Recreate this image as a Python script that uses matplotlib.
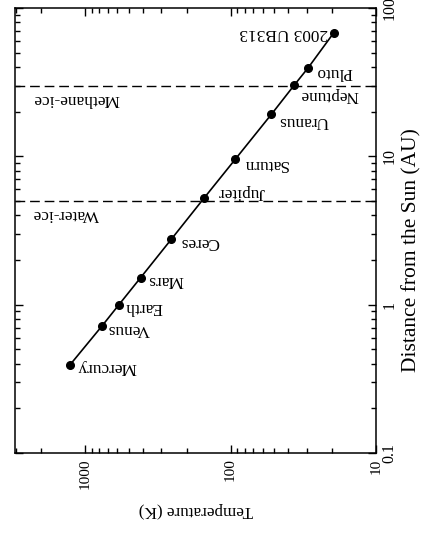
import matplotlib
matplotlib.use("Agg")
import matplotlib.pyplot as plt
from matplotlib.ticker import NullFormatter, LogLocator

plt.rcParams['font.family'] = ['Liberation Serif', 'DejaVu Serif']

names = ["Mercury", "Venus", "Earth", "Mars", "Ceres", "Jupiter", "Saturn",
         "Uranus", "Neptune", "Pluto", "2003 UB313"]
distance_au = [0.39, 0.72, 1.0, 1.52, 2.77, 5.2, 9.54, 19.2, 30.1, 39.5, 67.7]
temperature_k = [1280, 765, 586, 416, 255, 153, 93, 52.4, 36.6, 29.3, 19.6]

ice_lines = [5.0, 30.0]
ice_names = ["Water-ice", "Methane-ice"]

x_ticks = [1000, 100, 10]
x_ticklabels = ["1000", "100", "10"]
y_ticks = [0.1, 1, 10, 100]
y_ticklabels = ["0.1", "1", "10", "100"]

# label offsets in points (dx, dy), and horizontal alignment
label_offsets = {
    "Mercury": (5.5, -1, 'left'),
    "Venus": (4, -2, 'left'),
    "Earth": (4, -2, 'left'),
    "Mars": (5, -2, 'left'),
    "Ceres": (6, -2, 'left'),
    "Jupiter": (10, 5, 'left'),
    "Saturn": (5.5, -3.5, 'left'),
    "Uranus": (5, -5, 'left'),
    "Neptune": (4, -7, 'left'),
    "Pluto": (5.5, -3, 'left'),
    "2003 UB313": (-4, 0, 'right'),
}

fig = plt.figure(figsize=(4.22, 5.35), dpi=100)
ax = fig.add_axes([15/422, 1-453/535, (376-15)/422, (453-8)/535])

ax.set_xscale('log')
ax.set_yscale('log')
ax.set_xlim(3040, 10)
ax.set_ylim(0.1, 100)

for d in ice_lines:
    ax.axhline(d, color='black', lw=1.0, ls=(0, (7, 3.5)), zorder=1)

ax.plot(temperature_k, distance_au, '-', color='black', lw=1.2, zorder=2)
ax.plot(temperature_k, distance_au, 'o', color='black', ms=5.5, zorder=3)

for n, t, d in zip(names, temperature_k, distance_au):
    dx, dy, ha = label_offsets[n]
    ax.annotate(n, (t, d), xytext=(dx, dy), textcoords='offset points',
                rotation=180, ha=ha, va='center', fontsize=12.4)

for d, n in zip(ice_lines, ice_names):
    ax.annotate(n, (3040, d), xytext=(12.5, -9.5), textcoords='offset points',
                rotation=180, ha='left', va='center', fontsize=12.4)

ax.xaxis.set_minor_locator(LogLocator(base=10, subs=range(2, 10), numticks=20))
ax.yaxis.set_minor_locator(LogLocator(base=10, subs=range(2, 10), numticks=20))
ax.set_xticks(x_ticks)
ax.set_xticklabels(x_ticklabels)
ax.set_yticks(y_ticks)
ax.set_yticklabels(y_ticklabels)
ax.xaxis.set_minor_formatter(NullFormatter())
ax.yaxis.set_minor_formatter(NullFormatter())

ax.tick_params(which='both', direction='in', top=True, bottom=True,
               left=True, right=True, labelleft=False, labelright=True,
               labelbottom=True, width=1.0)
ax.tick_params(which='major', length=6)
ax.tick_params(which='minor', length=3.5)
ax.tick_params(axis='x', labelrotation=90, labelsize=11, pad=4)
ax.tick_params(axis='y', labelrotation=90, labelsize=11.5, pad=4)
for lab in ax.get_yticklabels():
    lab.set_va('center')

for s in ax.spines.values():
    s.set_linewidth(1.1)

ax.yaxis.set_label_position('right')
ax.set_ylabel('Distance from the Sun (AU)', rotation=90, fontsize=15.5, labelpad=3)
ax.yaxis.label.set_y(0.455)
ax.set_xlabel('Temperature (K)', rotation=180, fontsize=12.3, labelpad=9)

fig.savefig('out.png', dpi=100)
